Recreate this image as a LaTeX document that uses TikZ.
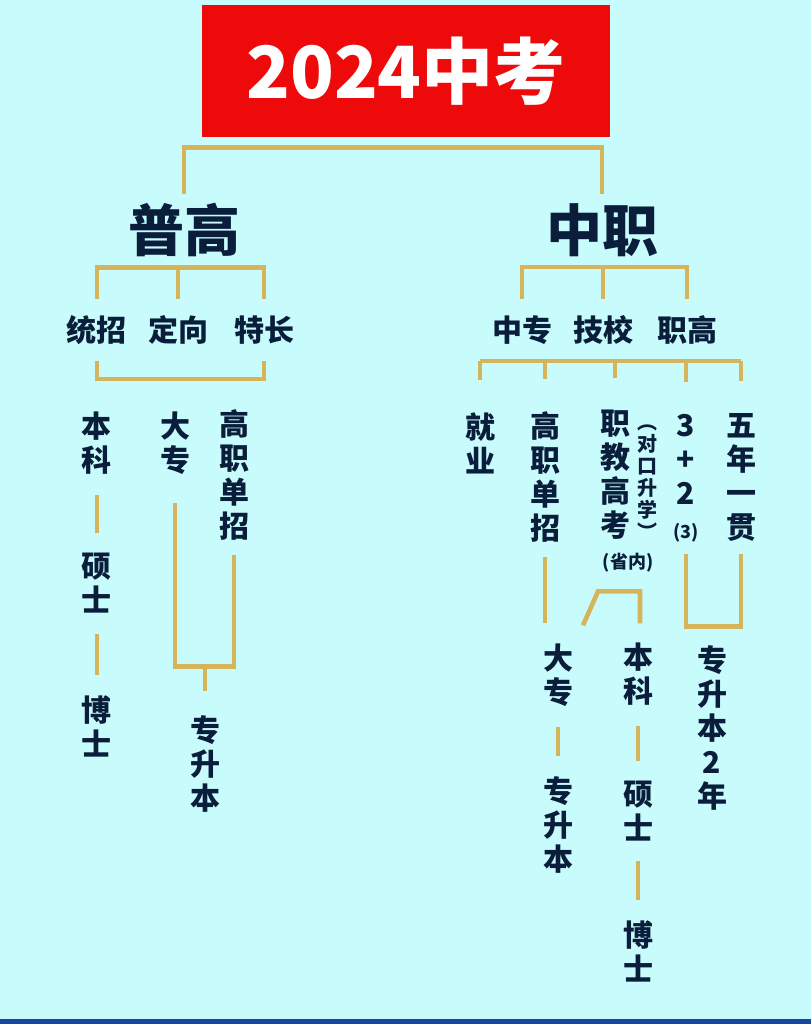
\documentclass[tikz,border=0pt]{standalone}
\usepackage{fontspec}
\usepackage{tikz}
\usetikzlibrary{positioning, calc}
\newfontfamily\cjk{Noto Sans CJK SC}
\definecolor{bgcyan}{HTML}{C8FCFC}
\definecolor{gold}{HTML}{D6B45C}
\definecolor{ink}{HTML}{0A1E3C}
\definecolor{titlered}{HTML}{EE0A0A}
\definecolor{edgeblue}{HTML}{1646A0}

\begin{document}
\begin{tikzpicture}[
    x=0.5pt, y=-0.5pt,
    banner/.style={rectangle, fill=titlered, minimum width=204pt, minimum height=66pt, text=white, font={\cjk\bfseries\fontsize{36}{40}\selectfont}},
    branch/.style={inner sep=0pt, text=ink, font={\cjk\bfseries\fontsize{28}{30}\selectfont}},
    leaf/.style={inner sep=0pt, text=ink, align=center, font={\cjk\bfseries\fontsize{15}{17}\selectfont}},
    note/.style={inner sep=0pt, text=ink, align=center, font={\cjk\bfseries\fontsize{10}{11}\selectfont}},
    link/.style={draw=gold, line width=2.3pt},
    rung/.style={link, shorten <=10pt, shorten >=10pt}
]
\useasboundingbox (0,0) rectangle (811,1024);
\fill[bgcyan] (0,0) rectangle (811,1024);
\fill[edgeblue] (0,1019) rectangle (811,1024);

% top level
\node[banner] (title) at (406,71) {2024中考};
\node[branch] (pugao) at (184,230) {普高};
\node[branch] (zhongzhi) at (602,230) {中职};
\draw[link] ([yshift=4.5pt]pugao.north) |- ([yshift=-5pt]title.south) -| ([yshift=4.5pt]zhongzhi.north);

% 普高 side
\node[leaf] (tongzhao) at (97,330) {统招};
\node[leaf] (dingxiang) at (178,330) {定向};
\node[leaf] (techang) at (264,330) {特长};
\coordinate (pgbar) at ([yshift=-5pt]pugao.south);
\draw[link] ([yshift=8pt]tongzhao.north) |- (pgbar) -| ([yshift=8pt]techang.north);
\draw[link] ([yshift=8pt]dingxiang.north) -- (dingxiang |- pgbar);
\draw[link] ([yshift=-8pt]tongzhao.south) -- ++(0,18) -| ([yshift=-8pt]techang.south);

\node[leaf] (benke1) at (97,443.5) {本\\科};
\node[leaf] (shuoshi1) at (97,583.5) {硕\\士};
\node[leaf] (boshi1) at (97,726) {博\\士};
\draw[rung] (benke1) -- (shuoshi1);
\draw[rung] (shuoshi1) -- (boshi1);

\node[leaf] (dazhuan1) at (175,443.5) {大\\专};
\node[leaf] (gzdz1) at (234,475) {高\\职\\单\\招};
\node[leaf] (zsb1) at (205,763.5) {专\\升\\本};
\draw[link] ([yshift=-14pt]dazhuan1.south) |- ([yshift=24pt]zsb1.north) -| ([yshift=-7pt]gzdz1.south);
\draw[link] ([yshift=24pt]zsb1.north) -- ([yshift=12pt]zsb1.north);

% 中职 side
\node[leaf] (zhongzhuan) at (522,330) {中专};
\node[leaf] (jixiao) at (603,330) {技校};
\node[leaf] (zhigao) at (687,330) {职高};
\coordinate (zzbar) at ([yshift=-5pt]zhongzhi.south);
\draw[link] ([yshift=8pt]zhongzhuan.north) |- (zzbar) -| ([yshift=8pt]zhigao.north);
\draw[link] ([yshift=8pt]jixiao.north) -- (jixiao |- zzbar);

\node[leaf] (jiuye) at (480,443.5) {就\\业};
\node[leaf] (gzdz2) at (545,477) {高\\职\\单\\招};
\node[leaf] (zjgk) at (615,475) {职\\教\\高\\考};
\node[note] (dksx) at (647,482) {︵\\对\\口\\升\\学\\︶};
\node[note, font={\cjk\bfseries\fontsize{9}{10}\selectfont}] (shengnei) at (628,563) {(省内)};
\node[leaf] (sanjia) at (686,478) {3\\+\\2\\{\fontsize{9}{10}\selectfont(3)}};
\node[leaf] (wunian) at (741,477) {五\\年\\一\\贯};
\coordinate (zzbot) at ([yshift=-8pt]zhongzhuan.south);
\draw[link] (jiuye |- zzbot) -- (wunian |- zzbot);
\foreach \col in {jiuye, gzdz2, zjgk, sanjia, wunian}
    \draw[link] (\col |- zzbot) -- ([yshift=16pt]\col.north);

\node[leaf] (dazhuan2) at (558,675) {大\\专};
\node[leaf] (zsb2) at (558,825) {专\\升\\本};
\node[leaf] (benke2) at (638,674) {本\\科};
\node[leaf] (shuoshi2) at (638,811) {硕\\士};
\node[leaf] (boshi2) at (638,951.5) {博\\士};
\node[leaf] (zsbn) at (712,727.5) {专\\升\\本\\2\\年};
\draw[link, shorten <=7pt, shorten >=10pt] (gzdz2.south) -- (gzdz2.south |- dazhuan2.north);
\draw[rung] (dazhuan2) -- (zsb2);
\draw[rung] (benke2) -- (shuoshi2);
\draw[rung] (shuoshi2) -- (boshi2);
\draw[link] ([shift={(-55,-17)}]benke2.north) -- ++(15,-34) -- ++(42,0) -- ++(0,32);
\coordinate (wbot) at ([yshift=-6.5pt]wunian.south);
\coordinate (wbar) at ([yshift=9pt]zsbn.north);
\draw[link] (sanjia |- wbot) |- (wbar) -| (wunian |- wbot);
\end{tikzpicture}
\end{document}
